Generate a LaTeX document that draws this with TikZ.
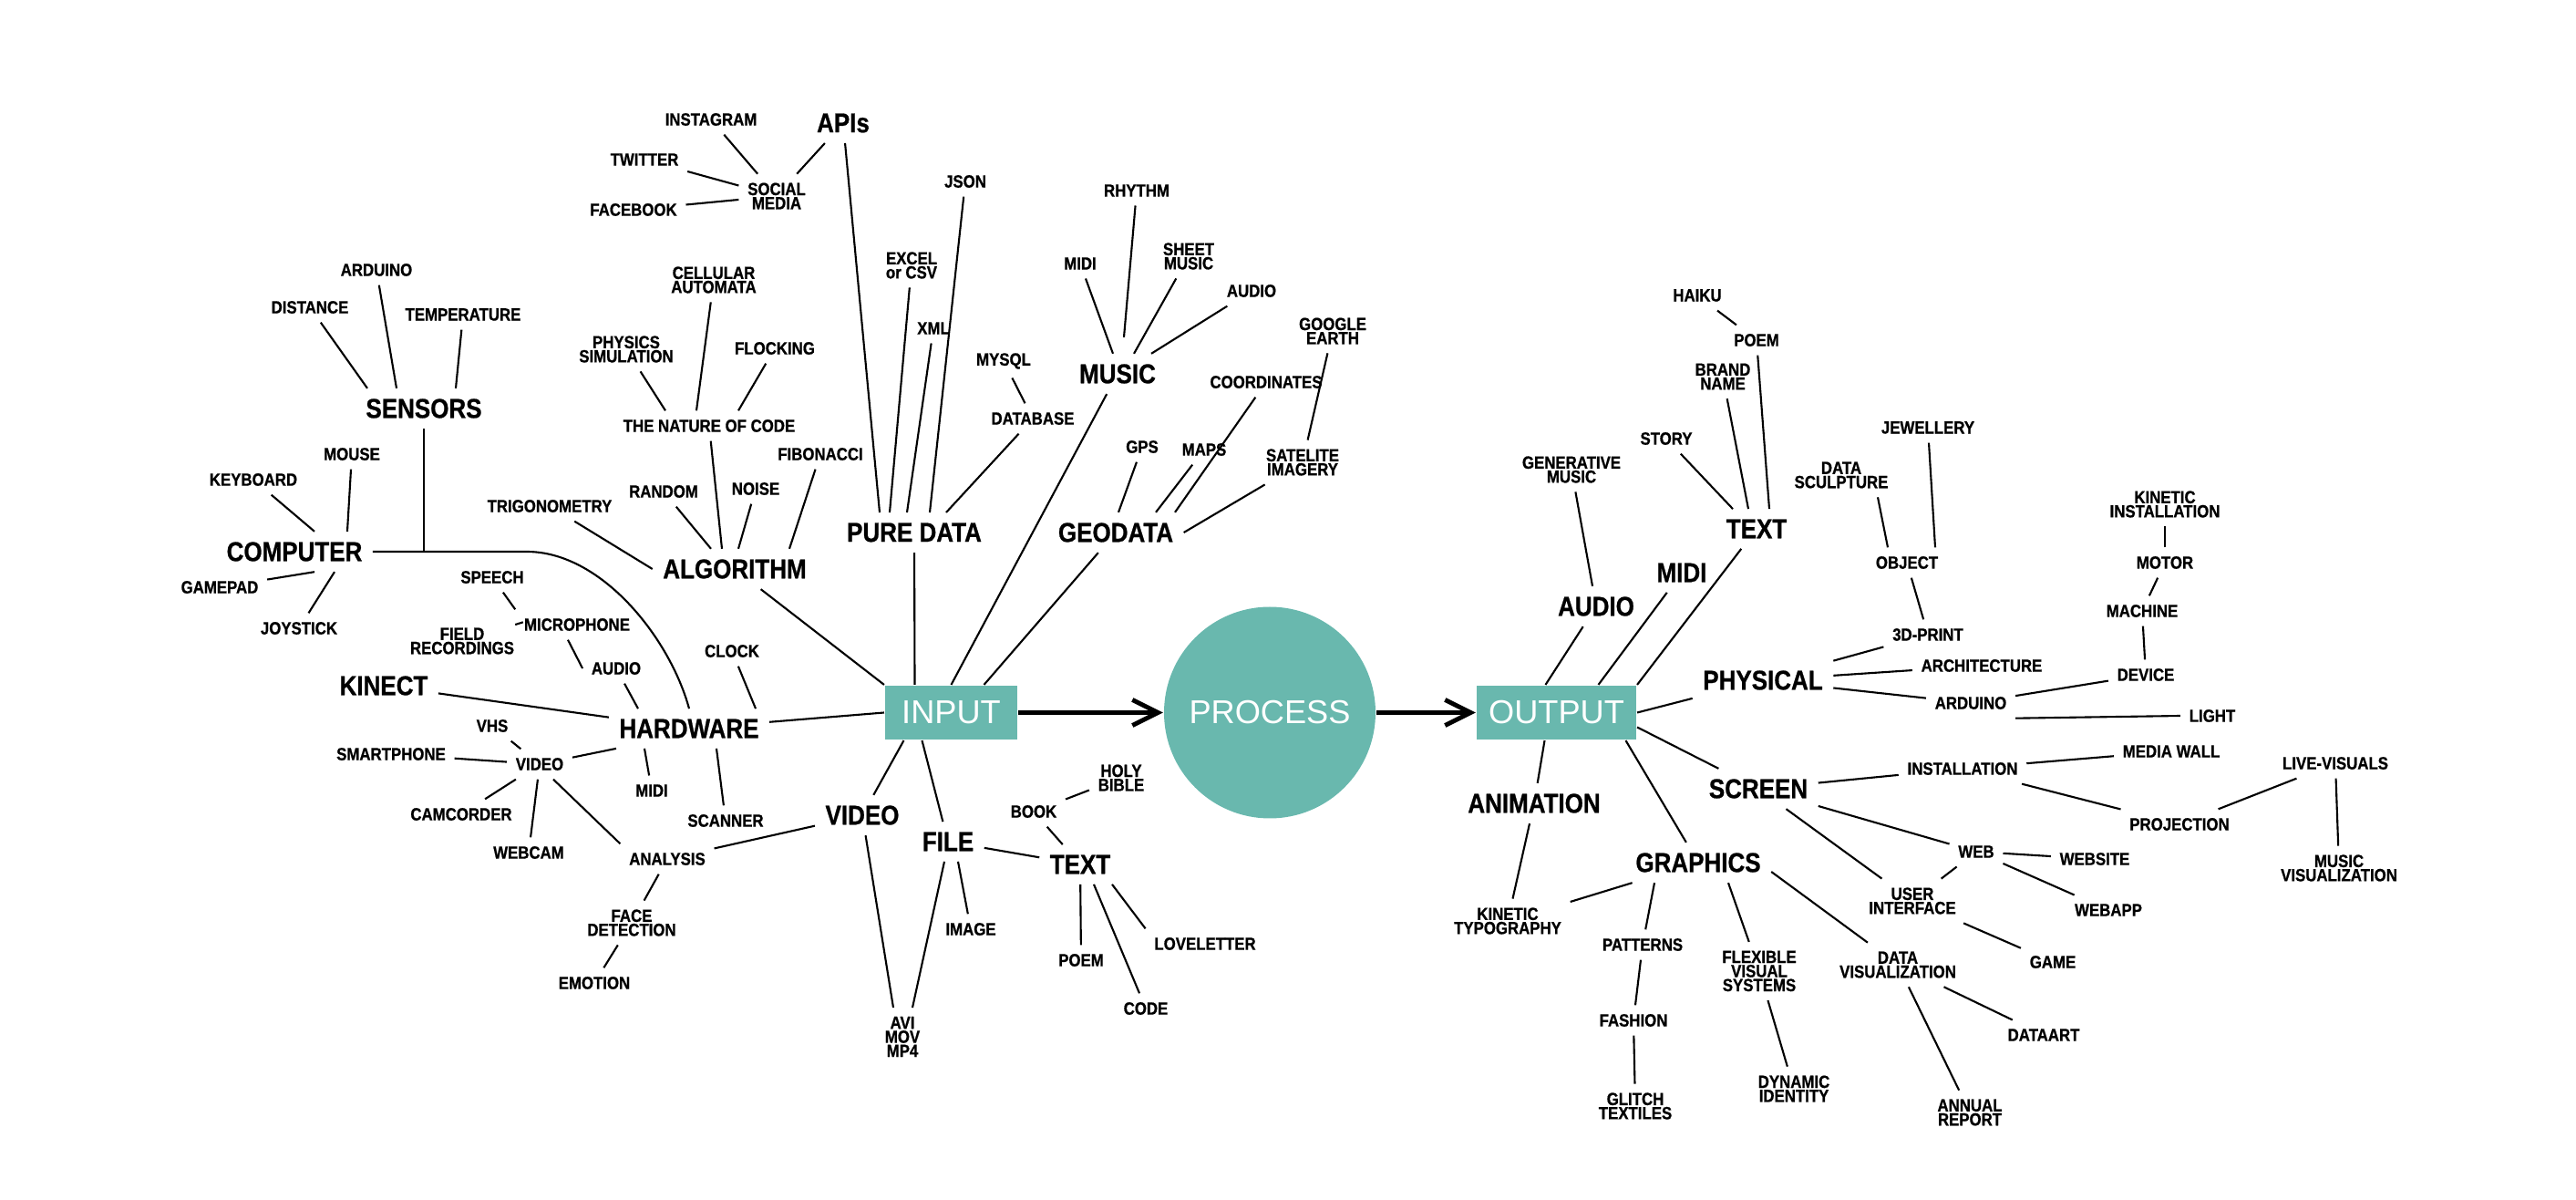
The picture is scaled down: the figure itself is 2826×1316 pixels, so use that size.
\documentclass[tikz,border=0pt]{standalone}
\usepackage{fontspec}
\setmainfont[FakeStretch=0.87,BoldFeatures={FakeBold=0.8}]{Liberation Sans}
\newfontfamily\stagefont{Liberation Sans}
\usetikzlibrary{arrows.meta}
\definecolor{seagreen}{HTML}{69B8AE}
\setlength{\lineskiplimit}{-5pt}
\tikzset{
  leaf/.style={font=\bfseries\fontsize{5.5}{4.4}\selectfont,align=center,inner sep=2.5pt},
  topic/.style={font=\bfseries\fontsize{8.5}{9}\selectfont,inner sep=3pt},
  stage/.style={fill=seagreen,text=white,font=\stagefont\fontsize{10.3}{12}\selectfont,minimum height=5.9mm,inner sep=0pt},
  flow/.style={line width=1.4pt,-{Straight Barb[length=8pt,width=8pt]}}
}
\begin{document}
\begin{tikzpicture}[x=0.1mm,y=-0.1mm,line width=0.6pt]
  \useasboundingbox (0,0) rectangle (2826,1316);
  % stages
  \node[stage,minimum width=14.5mm] (input) at (1043.5,781.5) {INPUT};
  \node[stage,circle,minimum size=23.2mm] (process) at (1393,781.5) {PROCESS};
  \node[stage,minimum width=17.5mm] (output) at (1707.5,781.5) {OUTPUT};
  \draw[flow] (input.east) -- (process.west);
  \draw[flow] (process.east) -- (output.west);

  % input side
  \node[topic] (apis) at (925,135) {APIs};
  \node[leaf] (instagram) at (780,131) {INSTAGRAM};
  \node[leaf] (twitter) at (707,175) {TWITTER};
  \node[leaf] (social) at (852,215) {SOCIAL\\MEDIA};
  \node[leaf] (facebook) at (695,230) {FACEBOOK};
  \node[leaf] (json) at (1059,199) {JSON};
  \node[leaf] (rhythm) at (1247,209) {RHYTHM};
  \node[leaf] (excel) at (1000,291) {EXCEL\\or CSV};
  \node[leaf] (midiin) at (1185,289) {MIDI};
  \node[leaf] (sheet) at (1304,281) {SHEET\\MUSIC};
  \node[leaf] (audiom) at (1373,319) {AUDIO};
  \node[leaf] (arduinoin) at (413,296) {ARDUINO};
  \node[leaf] (cellular) at (783,307) {CELLULAR\\AUTOMATA};
  \node[leaf] (distance) at (340,337) {DISTANCE};
  \node[leaf] (temperature) at (508,345) {TEMPERATURE};
  \node[leaf] (xml) at (1024,360) {XML};
  \node[leaf] (gearth) at (1462,363) {GOOGLE\\EARTH};
  \node[leaf] (physics) at (687,383) {PHYSICS\\SIMULATION};
  \node[leaf] (flocking) at (850,382) {FLOCKING};
  \node[leaf] (mysql) at (1101,396) {MYSQL};
  \node[topic] (music) at (1226,410) {MUSIC};
  \node[leaf] (coords) at (1389,419) {COORDINATES};
  \node[topic] (sensors) at (465,448) {SENSORS};
  \node[leaf] (natcode) at (778,467) {THE NATURE OF CODE};
  \node[leaf] (database) at (1133,459) {DATABASE};
  \node[leaf] (gps) at (1253,490) {GPS};
  \node[leaf] (maps) at (1321,493) {MAPS};
  \node[leaf] (mouse) at (386,498) {MOUSE};
  \node[leaf] (fibonacci) at (900,498) {FIBONACCI};
  \node[leaf] (satellite) at (1429,507) {SATELITE\\IMAGERY};
  \node[leaf] (keyboard) at (278,526) {KEYBOARD};
  \node[leaf] (noise) at (829,536) {NOISE};
  \node[leaf] (random) at (728,539) {RANDOM};
  \node[leaf] (trig) at (603,555) {TRIGONOMETRY};
  \node[topic] (puredata) at (1003,584) {PURE DATA};
  \node[topic] (geodata) at (1224,584) {GEODATA};
  \node[topic] (computer) at (323,605) {COMPUTER};
  \node[topic] (algo) at (806,624) {ALGORITHM};
  \node[leaf] (speech) at (540,633) {SPEECH};
  \node[leaf] (gamepad) at (241,644) {GAMEPAD};
  \node[leaf] (mic) at (633,685) {MICROPHONE};
  \node[leaf] (joystick) at (328,689) {JOYSTICK};
  \node[leaf] (field) at (507,703) {FIELD\\RECORDINGS};
  \node[leaf] (clock) at (803,714) {CLOCK};
  \node[leaf] (audiohw) at (676,733) {AUDIO};
  \node[topic] (kinect) at (421,752) {KINECT};
  \node[topic] (hardware) at (756,799) {HARDWARE};
  \node[leaf] (vhs) at (540,796) {VHS};
  \node[leaf] (smartphone) at (429,827) {SMARTPHONE};
  \node[leaf] (videohw) at (592,838) {VIDEO};
  \node[leaf] (midihw) at (715,867) {MIDI};
  \node[leaf] (camcorder) at (506,893) {CAMCORDER};
  \node[topic] (video) at (946,894) {VIDEO};
  \node[leaf] (scanner) at (796,900) {SCANNER};
  \node[topic] (file) at (1040,923) {FILE};
  \node[leaf] (webcam) at (580,935) {WEBCAM};
  \node[leaf] (analysis) at (732,942) {ANALYSIS};
  \node[leaf] (bible) at (1230,853) {HOLY\\BIBLE};
  \node[leaf] (book) at (1134,890) {BOOK};
  \node[topic] (textin) at (1185,948) {TEXT};
  \node[leaf] (image) at (1065,1019) {IMAGE};
  \node[leaf] (loveletter) at (1322,1035) {LOVELETTER};
  \node[leaf] (poemin) at (1186,1053) {POEM};
  \node[leaf] (face) at (693,1012) {FACE\\DETECTION};
  \node[leaf] (emotion) at (652,1078) {EMOTION};
  \node[leaf] (code) at (1257,1106) {CODE};
  \node[leaf] (formats) at (990,1137) {AVI\\MOV\\MP4};

  \draw (algo) -- (input.north west);
  \draw (hardware) -- (input.west);
  \draw (puredata) -- ([xshift=-4mm]input.north);
  \draw (music) -- (input.north);
  \draw (geodata) -- ([xshift=3.6mm]input.north);
  \draw (video) -- ([xshift=-5.2mm]input.south);
  \draw (file) -- ([xshift=-3.2mm]input.south);

  \draw (trig) -- (algo.west);
  \draw (random) -- ([xshift=-2.6mm]algo.north);
  \draw (natcode) -- ([xshift=-1.4mm]algo.north);
  \draw (noise) -- ([xshift=0.4mm]algo.north);
  \draw (fibonacci) -- ([xshift=6mm]algo.north);
  \draw (physics) -- ([xshift=-4.8mm]natcode.north);
  \draw (cellular) -- ([xshift=-1.4mm]natcode.north);
  \draw (flocking) -- ([xshift=3.2mm]natcode.north);

  \draw (apis) -- ([xshift=-3.8mm]puredata.north);
  \draw (excel) -- ([xshift=-2.7mm]puredata.north);
  \draw (xml) -- ([xshift=-0.8mm]puredata.north);
  \draw (json) -- ([xshift=1.7mm]puredata.north);
  \draw (database) -- ([xshift=3.5mm]puredata.north);
  \draw (mysql) -- (database);
  \draw (apis) -- (social);
  \draw (instagram) -- (social);
  \draw (twitter) -- (social);
  \draw (facebook) -- (social);

  \draw (midiin) -- ([xshift=-0.5mm]music.north);
  \draw (rhythm) -- ([xshift=0.7mm,yshift=1.8mm]music.north);
  \draw (sheet) -- ([xshift=1.8mm]music.north);
  \draw (audiom) -- ([xshift=3.7mm]music.north);

  \draw (gps) -- ([xshift=0.3mm]geodata.north);
  \draw (maps) -- ([xshift=4.4mm]geodata.north);
  \draw (coords) -- ([xshift=6.5mm]geodata.north);
  \draw (satellite) -- (geodata.east);
  \draw (gearth) -- (satellite);

  \draw (computer.east) -- (578,605) .. controls (660,605) and (735,700) .. (hardware.north);
  \draw (sensors.south) -- (sensors.south |- computer.east);
  \draw (kinect) -- (hardware);
  \draw (audiohw) -- ([xshift=-5.6mm]hardware.north);
  \draw (clock) -- ([xshift=7.3mm]hardware.north);
  \draw (videohw) -- ([xshift=-8mm]hardware.south);
  \draw (midihw) -- ([xshift=-4.9mm]hardware.south);
  \draw (scanner) -- ([xshift=3mm]hardware.south);

  \draw (distance) -- ([xshift=-6.2mm]sensors.north);
  \draw (arduinoin) -- ([xshift=-3mm]sensors.north);
  \draw (temperature) -- ([xshift=3.5mm]sensors.north);
  \draw (mouse) -- ([xshift=5.8mm]computer.north);
  \draw (keyboard) -- ([xshift=2.2mm]computer.north);
  \draw (gamepad) -- ([xshift=2.2mm]computer.south);
  \draw (joystick) -- ([xshift=4.4mm]computer.south);

  \draw (speech) -- (mic.north west);
  \draw (field) -- (mic.west);
  \draw (audiohw.west) -- ([xshift=-1mm]mic.south);

  \draw (vhs) -- (videohw);
  \draw (smartphone) -- (videohw);
  \draw (camcorder) -- (videohw);
  \draw (webcam) -- (videohw);
  \draw (analysis.north west) -- ([xshift=1.5mm]videohw.south);
  \draw (analysis) -- (video);
  \draw (analysis) -- (face);
  \draw (face) -- (emotion);

  \draw (video) -- ([xshift=-1mm]formats.north);
  \draw ([xshift=-0.4mm]file.south) -- ([xshift=1.1mm]formats.north);
  \draw ([xshift=1.1mm]file.south) -- (image);
  \draw (file) -- (textin);
  \draw (book) -- (textin);
  \draw (bible) -- (book);
  \draw (textin) -- (poemin);
  \draw ([xshift=1.5mm]textin.south) -- (code);
  \draw ([xshift=3.5mm]textin.south) -- (loveletter.north west);

  % output side
  \node[leaf] (haiku) at (1862,324) {HAIKU};
  \node[leaf] (poemout) at (1927,373) {POEM};
  \node[leaf] (brand) at (1890,413) {BRAND\\NAME};
  \node[leaf] (story) at (1828,481) {STORY};
  \node[leaf] (jewellery) at (2115,469) {JEWELLERY};
  \node[leaf] (genmusic) at (1724,515) {GENERATIVE\\MUSIC};
  \node[leaf] (datasculpt) at (2020,521) {DATA\\SCULPTURE};
  \node[leaf] (kininst) at (2375,553) {KINETIC\\INSTALLATION};
  \node[topic] (textout) at (1927,580) {TEXT};
  \node[leaf] (object) at (2092,617) {OBJECT};
  \node[leaf] (motor) at (2375,617) {MOTOR};
  \node[topic] (midiout) at (1845,628) {MIDI};
  \node[topic] (audioout) at (1751,665) {AUDIO};
  \node[leaf] (machine) at (2350,670) {MACHINE};
  \node[leaf] (print) at (2115,696) {3D-PRINT};
  \node[leaf] (architecture) at (2174,730) {ARCHITECTURE};
  \node[leaf] (device) at (2354,740) {DEVICE};
  \node[topic] (physical) at (1934,746) {PHYSICAL};
  \node[leaf] (arduinoout) at (2162,771) {ARDUINO};
  \node[leaf] (light) at (2427,785) {LIGHT};
  \node[leaf] (mediawall) at (2382,824) {MEDIA WALL};
  \node[leaf] (livevisuals) at (2562,837) {LIVE-VISUALS};
  \node[leaf] (installation) at (2153,843) {INSTALLATION};
  \node[topic] (screen) at (1929,865) {SCREEN};
  \node[topic] (animation) at (1683,881) {ANIMATION};
  \node[leaf] (projection) at (2391,904) {PROJECTION};
  \node[leaf] (web) at (2168,934) {WEB};
  \node[leaf] (website) at (2298,942) {WEBSITE};
  \node[topic] (graphics) at (1863,946) {GRAPHICS};
  \node[leaf] (musicvis) at (2566,952) {MUSIC\\VISUALIZATION};
  \node[leaf] (ui) at (2098,988) {USER\\INTERFACE};
  \node[leaf] (webapp) at (2313,998) {WEBAPP};
  \node[leaf] (kintypo) at (1654,1010) {KINETIC\\TYPOGRAPHY};
  \node[leaf] (patterns) at (1802,1036) {PATTERNS};
  \node[leaf] (flexible) at (1930,1065) {FLEXIBLE\\VISUAL\\SYSTEMS};
  \node[leaf] (datavis) at (2082,1058) {DATA\\VISUALIZATION};
  \node[leaf] (game) at (2252,1055) {GAME};
  \node[leaf] (fashion) at (1792,1119) {FASHION};
  \node[leaf] (dataart) at (2242,1135) {DATAART};
  \node[leaf] (dynamic) at (1968,1194) {DYNAMIC\\IDENTITY};
  \node[leaf] (glitch) at (1794,1213) {GLITCH\\TEXTILES};
  \node[leaf] (annual) at (2161,1220) {ANNUAL\\REPORT};

  \draw (audioout) -- ([xshift=-1.2mm]output.north);
  \draw (midiout) -- ([xshift=4.6mm]output.north);
  \draw (textout) -- (output.north east);
  \draw (physical) -- (output.east);
  \draw (screen) -- ([yshift=-1.6mm]output.east);
  \draw (graphics) -- ([xshift=7.6mm]output.south);
  \draw (animation) -- ([xshift=-1.3mm]output.south);

  \draw (genmusic) -- (audioout);
  \draw (story) -- ([xshift=-2.6mm]textout.north);
  \draw (brand) -- ([xshift=-0.9mm]textout.north);
  \draw (poemout) -- ([xshift=1.4mm]textout.north);
  \draw (haiku) -- (poemout);

  \draw (print) -- (physical);
  \draw (architecture) -- (physical);
  \draw (arduinoout) -- (physical);
  \draw (object) -- (print);
  \draw ([xshift=4mm]datasculpt.south) -- ([xshift=-2.1mm]object.north);
  \draw (jewellery) -- ([xshift=3.1mm]object.north);
  \draw (arduinoout) -- (device);
  \draw (arduinoout.south east) -- (light.west);
  \draw (device) -- (machine);
  \draw (machine) -- (motor);
  \draw (motor) -- (kininst);

  \draw (screen) -- (installation);
  \draw (screen) -- (web);
  \draw (screen) -- (ui);
  \draw (installation) -- (mediawall);
  \draw (installation) -- (projection);
  \draw (projection) -- (livevisuals);
  \draw (livevisuals) -- (musicvis);
  \draw (web) -- (website);
  \draw (web) -- (webapp);
  \draw (web) -- (ui);
  \draw (ui) -- (game);

  \draw (graphics) -- (kintypo);
  \draw (animation) -- (kintypo);
  \draw ([xshift=-4.8mm]graphics.south) -- (patterns);
  \draw ([xshift=3.3mm]graphics.south) -- (flexible);
  \draw ([yshift=-1mm]graphics.east) -- (datavis);
  \draw (patterns) -- (fashion);
  \draw (fashion) -- (glitch);
  \draw (flexible) -- (dynamic);
  \draw (datavis) -- (annual);
  \draw (datavis) -- (dataart);
\end{tikzpicture}
\end{document}
